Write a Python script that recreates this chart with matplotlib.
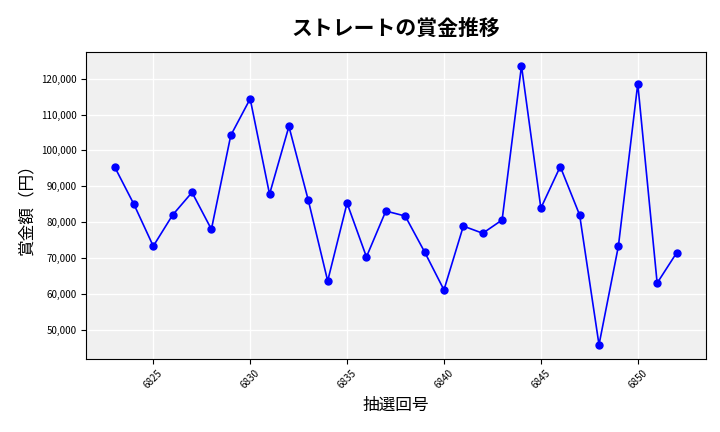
import matplotlib
matplotlib.use("Agg")
import matplotlib.pyplot as plt
from matplotlib.ticker import FuncFormatter

plt.rcParams['font.family'] = ['Noto Sans CJK JP', 'DejaVu Sans']

draws = list(range(6823, 6853))
prizes = [95500, 85000, 73300, 82000, 88300, 78000, 104200, 114400, 87800, 106700,
          86100, 63600, 85300, 70300, 83100, 81700, 71700, 61100, 78900, 76900,
          80600, 123600, 83900, 95500, 82000, 45800, 73300, 118600, 63000, 71400]

fig, ax = plt.subplots(figsize=(7.2, 4.32), dpi=100)
ax.set_facecolor('#f0f0f0')
ax.grid(True, color='white', linewidth=1)
ax.set_axisbelow(True)
ax.plot(draws, prizes, color='blue', marker='o', markersize=5, linewidth=1.2)
ax.set_title('ストレートの賞金推移', fontsize=15, fontweight='bold', pad=12)
ax.set_xlabel('抽選回号', fontsize=12)
ax.set_ylabel('賞金額（円）', fontsize=12)
ax.set_xticks([6825, 6830, 6835, 6840, 6845, 6850])
ax.yaxis.set_major_formatter(FuncFormatter(lambda v, p: f'{int(v):,}'))
ax.tick_params(axis='x', labelsize=7, rotation=45)
ax.tick_params(axis='y', labelsize=7)
ax.set_xlim(6821.55, 6853.5)
ax.set_ylim(41950, 127500)
fig.subplots_adjust(left=0.12, right=0.98, top=0.88, bottom=0.17)
fig.savefig('out.png')
